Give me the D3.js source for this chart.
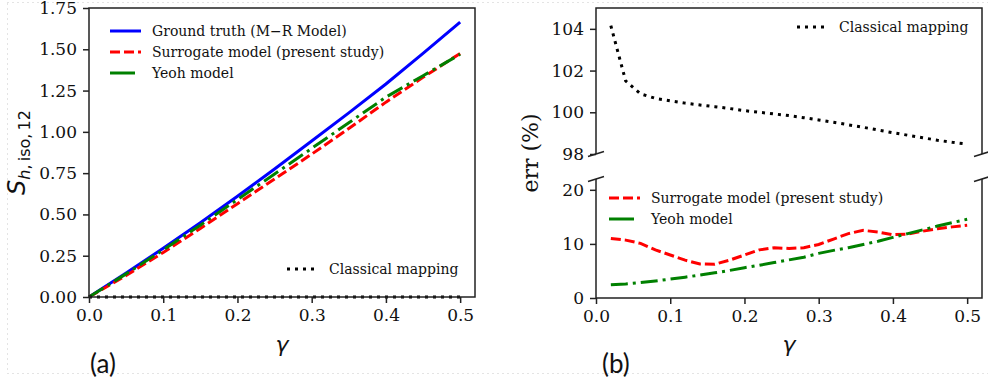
<!DOCTYPE html>
<html>
<head>
<meta charset="utf-8">
<script src="https://cdn.jsdelivr.net/npm/d3@7"></script>
<style>
  body { margin: 0; background: #fff; }
</style>
</head>
<body>
<div id="chart"></div>
<script>
// Panel (a): stress vs gamma
const gammaA = [0, 0.05, 0.1, 0.15, 0.2, 0.25, 0.3, 0.35, 0.4, 0.45, 0.5];
const groundTruth = [0, 0.145, 0.295, 0.45, 0.61, 0.775, 0.945, 1.115, 1.29, 1.475, 1.665];
const surrogateA = [0, 0.13, 0.27, 0.415, 0.565, 0.715, 0.865, 1.02, 1.18, 1.33, 1.475];
const yeohA = [0, 0.14, 0.285, 0.435, 0.59, 0.745, 0.9, 1.055, 1.21, 1.34, 1.47];
const classicalA = [0, 0, 0, 0, 0, 0, 0, 0, 0, 0, 0];

// Panel (b): error vs gamma
const gammaB = [0.02, 0.04, 0.06, 0.08, 0.10, 0.12, 0.14, 0.16, 0.18, 0.20, 0.22, 0.24, 0.26,
                0.28, 0.30, 0.32, 0.34, 0.36, 0.38, 0.40, 0.42, 0.44, 0.46, 0.48, 0.50];
const classicalB = [104.15, 101.5, 100.88, 100.67, 100.55, 100.44, 100.35, 100.27, 100.18, 100.08,
                    100.0, 99.92, 99.84, 99.74, 99.63, 99.52, 99.4, 99.28, 99.15, 99.02,
                    98.9, 98.78, 98.66, 98.56, 98.48];
const surrogateB = [11.0, 10.7, 10.1, 8.9, 7.95, 7.0, 6.3, 6.25, 7.0, 7.95, 8.9, 9.3, 9.15,
                    9.3, 9.9, 10.9, 11.9, 12.5, 12.2, 11.7, 11.8, 12.35, 12.8, 13.15, 13.45];
const yeohB = [2.45, 2.6, 2.85, 3.15, 3.5, 3.85, 4.25, 4.65, 5.1, 5.6, 6.05, 6.55, 7.05,
               7.55, 8.25, 8.8, 9.3, 9.9, 10.5, 11.2, 11.9, 12.6, 13.3, 13.95, 14.55];

const xTicks = [0, 0.1, 0.2, 0.3, 0.4, 0.5];
const yTicksA = [0, 0.25, 0.5, 0.75, 1.0, 1.25, 1.5, 1.75];
const yTicksUpper = [98, 100, 102, 104];
const yTicksLower = [0, 10, 20];

const styles = {
  truth: { color: '#0000ff', dash: null, width: 3 },
  surrogate: { color: '#ff0000', dash: '10,4', width: 3 },
  yeoh: { color: '#008000', dash: '17,5,3,5', width: 3 },
  classical: { color: '#000', dash: '3,5', width: 3 }
};

const serif = '"DejaVu Serif", serif';
const sans = '"DejaVu Sans", sans-serif';

const width = 988, height = 385;
const svg = d3.select('#chart').append('svg')
    .attr('width', width)
    .attr('height', height);

// faint dotted page border seen around the figure
svg.append('rect')
    .attr('x', 7.5).attr('y', 2.5)
    .attr('width', 990).attr('height', 371)
    .attr('fill', 'none')
    .attr('stroke', '#c8c8c8')
    .attr('stroke-dasharray', '1,4');

const spine = '#222';

function drawLine(g, xs, ys, x, y, st) {
  const line = d3.line().x((d, i) => x(xs[i])).y(d => y(d));
  g.append('path')
      .datum(ys)
      .attr('d', line)
      .attr('fill', 'none')
      .attr('stroke', st.color)
      .attr('stroke-width', st.width)
      .attr('stroke-dasharray', st.dash);
}

function legendRow(g, x0, y0, label, st, sampleLen) {
  g.append('line')
      .attr('x1', x0).attr('x2', x0 + (sampleLen || 31))
      .attr('y1', y0).attr('y2', y0)
      .attr('stroke', st.color)
      .attr('stroke-width', st.width)
      .attr('stroke-dasharray', st.dash);
  g.append('text')
      .attr('x', x0 + 42).attr('y', y0)
      .attr('dy', '0.35em')
      .style('font-family', serif)
      .style('font-size', '14px')
      .style('fill', '#111')
      .text(label);
}

function styleTicks(a) {
  a.select('.domain').remove();
  a.selectAll('line').attr('stroke', spine).attr('stroke-width', 1.5);
  a.selectAll('text')
      .style('font-family', serif)
      .style('font-size', '17px')
      .style('fill', '#111');
}

function yAxisLeft(g, y, ticks, x0, fmt) {
  g.append('g')
      .attr('transform', `translate(${x0},0)`)
      .call(d3.axisLeft(y).tickValues(ticks).tickSize(6).tickPadding(6).tickFormat(fmt))
      .call(styleTicks);
}

function xAxisBottom(g, x, y0) {
  g.append('g')
      .attr('transform', `translate(0,${y0})`)
      .call(d3.axisBottom(x).tickValues(xTicks).tickSize(6).tickPadding(6).tickFormat(d3.format('.1f')))
      .call(styleTicks);
}

// ---------- Panel (a) ----------
const ax = { left: 89, right: 475, top: 8, bottom: 297 };
const xA = d3.scaleLinear().domain([0, 0.52]).range([ax.left, ax.right]);
const yA = d3.scaleLinear().domain([0, 1.75]).range([ax.bottom, ax.top]);
const gA = svg.append('g');

drawLine(gA, gammaA, groundTruth, xA, yA, styles.truth);
drawLine(gA, gammaA, surrogateA, xA, yA, styles.surrogate);
drawLine(gA, gammaA, yeohA, xA, yA, styles.yeoh);
drawLine(gA, gammaA, classicalA, xA, yA, styles.classical);

gA.append('rect')
    .attr('x', ax.left).attr('y', ax.top)
    .attr('width', ax.right - ax.left).attr('height', ax.bottom - ax.top)
    .attr('fill', 'none').attr('stroke', spine).attr('stroke-width', 1.5);

yAxisLeft(gA, yA, yTicksA, ax.left, d3.format('.2f'));
xAxisBottom(gA, xA, ax.bottom);

legendRow(gA, 110, 31, 'Ground truth (M\u2212R Model)', styles.truth);
legendRow(gA, 110, 52, 'Surrogate model (present study)', styles.surrogate);
legendRow(gA, 110, 73, 'Yeoh model', { color: styles.yeoh.color, dash: null, width: 3 }, 25);
legendRow(gA, 287, 269, 'Classical mapping', styles.classical);

// y label S_{h, iso, 12}
const yLabA = gA.append('text')
    .attr('transform', `translate(25,${(ax.top + ax.bottom) / 2}) rotate(-90)`)
    .attr('text-anchor', 'middle')
    .style('font-family', sans)
    .style('fill', '#111');
yLabA.append('tspan').style('font-size', '24px').style('font-style', 'italic').text('S');
yLabA.append('tspan').style('font-size', '16px').attr('dy', 5).style('font-style', 'italic').text('h');
yLabA.append('tspan').style('font-size', '16px').text(',\u2009iso,\u200912');

gA.append('text')
    .attr('x', (ax.left + ax.right) / 2).attr('y', 352)
    .attr('text-anchor', 'middle')
    .style('font-family', sans)
    .style('font-style', 'italic')
    .style('font-size', '22px')
    .style('fill', '#111')
    .text('\u03b3');

gA.append('text')
    .attr('x', 90).attr('y', 373)
    .style('font-family', 'Lato, sans-serif')
    .style('font-size', '26px')
    .style('fill', '#111')
    .text('(a)');

// ---------- Panel (b) ----------
const bx = { left: 596, right: 982, top: 8, breakUp: 154, breakLow: 179, bottom: 298 };
const xB = d3.scaleLinear().domain([0, 0.52]).range([bx.left, bx.right]);
const yUp = d3.scaleLinear().domain([98, 105]).range([bx.breakUp, bx.top]);
const yLow = d3.scaleLinear().domain([0, 22]).range([bx.bottom, bx.breakLow]);
const gB = svg.append('g');

drawLine(gB, gammaB, classicalB, xB, yUp, styles.classical);
drawLine(gB, gammaB, surrogateB, xB, yLow, styles.surrogate);
drawLine(gB, gammaB, yeohB, xB, yLow, styles.yeoh);

// spines: upper box open at bottom, lower box open at top
gB.append('path')
    .attr('d', `M${bx.left},${bx.breakUp}V${bx.top}H${bx.right}V${bx.breakUp}`)
    .attr('fill', 'none').attr('stroke', spine).attr('stroke-width', 1.5);
gB.append('path')
    .attr('d', `M${bx.left},${bx.breakLow}V${bx.bottom}H${bx.right}V${bx.breakLow}`)
    .attr('fill', 'none').attr('stroke', spine).attr('stroke-width', 1.5);

// break marks
[bx.left, bx.right].forEach(xx => {
  [bx.breakUp, bx.breakLow].forEach(yy => {
    gB.append('line')
        .attr('x1', xx - 8).attr('y1', yy + 2.5)
        .attr('x2', xx + 8).attr('y2', yy - 2.5)
        .attr('stroke', spine).attr('stroke-width', 1.5);
  });
});

yAxisLeft(gB, yUp, yTicksUpper, bx.left, d3.format('d'));
yAxisLeft(gB, yLow, yTicksLower, bx.left, d3.format('d'));
xAxisBottom(gB, xB, bx.bottom);

legendRow(gB, 797, 27, 'Classical mapping', styles.classical);
legendRow(gB, 609, 198, 'Surrogate model (present study)', styles.surrogate);
legendRow(gB, 609, 219, 'Yeoh model', { color: styles.yeoh.color, dash: null, width: 3 }, 25);

gB.append('text')
    .attr('transform', `translate(538,${(bx.top + bx.bottom) / 2}) rotate(-90)`)
    .attr('text-anchor', 'middle')
    .style('font-family', serif)
    .style('font-size', '22px')
    .style('fill', '#111')
    .text('err (%)');

gB.append('text')
    .attr('x', (bx.left + bx.right) / 2).attr('y', 352)
    .attr('text-anchor', 'middle')
    .style('font-family', sans)
    .style('font-style', 'italic')
    .style('font-size', '22px')
    .style('fill', '#111')
    .text('\u03b3');

gB.append('text')
    .attr('x', 602).attr('y', 373)
    .style('font-family', 'Lato, sans-serif')
    .style('font-size', '26px')
    .style('fill', '#111')
    .text('(b)');
</script>
</body>
</html>
